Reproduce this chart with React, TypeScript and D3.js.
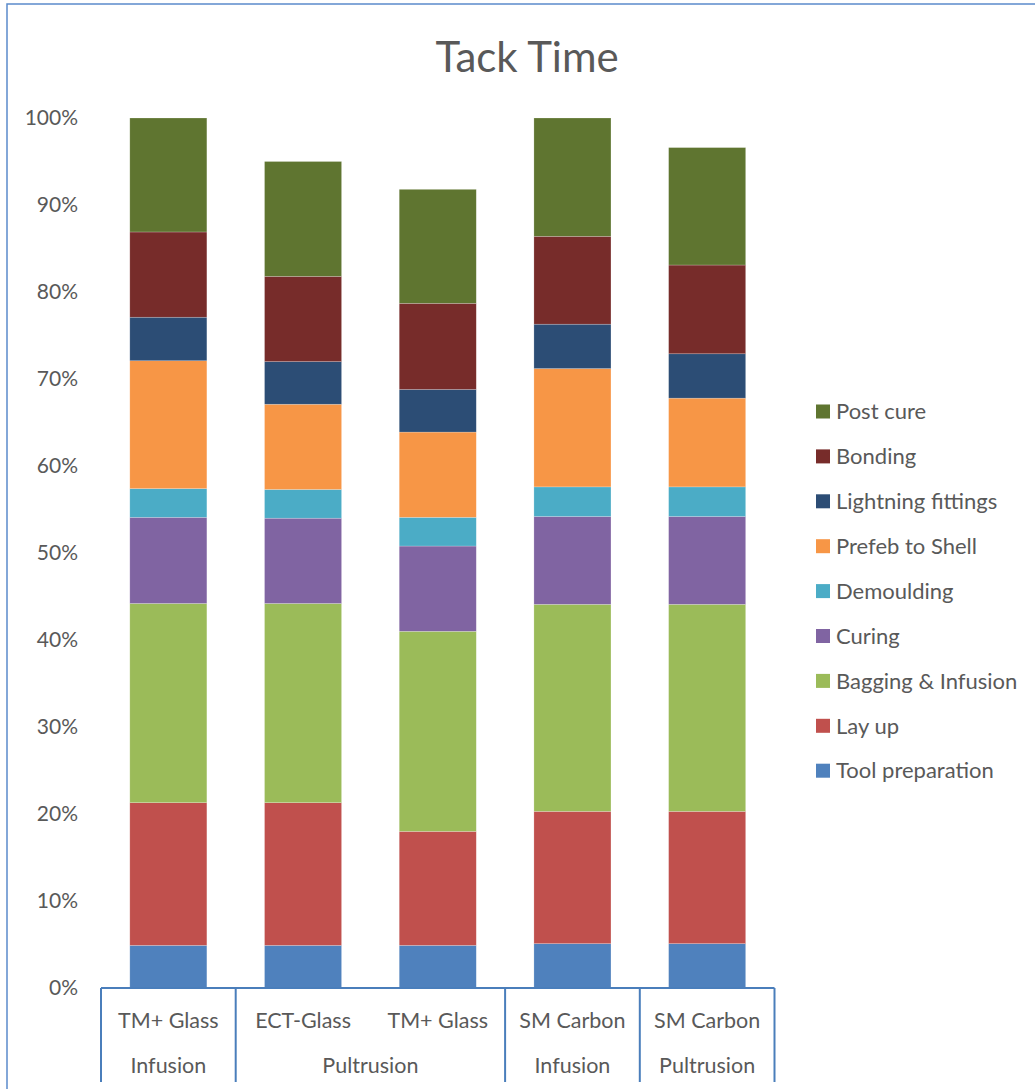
import React, { useEffect, useRef } from 'react';
import * as d3 from 'd3';

// categories (two-level x axis)
const products = ['TM+ Glass', 'ECT-Glass', 'TM+ Glass', 'SM Carbon', 'SM Carbon'];
const processes = ['Infusion', 'Pultrusion', 'Pultrusion', 'Infusion', 'Pultrusion'];

// series values, % of total time
const toolPreparation = [4.9, 4.9, 4.9, 5.1, 5.1];
const layUp = [16.4, 16.4, 13.1, 15.2, 15.2];
const baggingInfusion = [22.9, 22.9, 23.0, 23.8, 23.8];
const curing = [9.9, 9.8, 9.8, 10.1, 10.1];
const demoulding = [3.3, 3.3, 3.3, 3.4, 3.4];
const prefebToShell = [14.7, 9.8, 9.8, 13.6, 10.2];
const lightningFittings = [5.0, 4.9, 4.9, 5.1, 5.1];
const bonding = [9.8, 9.8, 9.9, 10.1, 10.2];
const postCure = [13.1, 13.2, 13.1, 13.6, 13.5];

const seriesNames = ['Tool preparation', 'Lay up', 'Bagging & Infusion', 'Curing', 'Demoulding',
    'Prefeb to Shell', 'Lightning fittings', 'Bonding', 'Post cure'];
const seriesValues = [toolPreparation, layUp, baggingInfusion, curing, demoulding,
    prefebToShell, lightningFittings, bonding, postCure];
const seriesColors = ['#4F81BD', '#C0504D', '#9BBB59', '#8064A2', '#4BACC6',
    '#F79646', '#2C4D75', '#772C2A', '#5F7530'];

const yTicks = [0, 10, 20, 30, 40, 50, 60, 70, 80, 90, 100];

const WIDTH = 1035;
const HEIGHT = 1089;
const FONT = 'Lato, "Open Sans", sans-serif';
const TEXT = '#595959';
const AXIS = '#4A7EBB';

const StackedChart: React.FC = () => {
    const ref = useRef<SVGSVGElement>(null);

    useEffect(() => {
        draw();
        //eslint-disable-next-line
    }, []);

    const draw = () => {
        const svg = d3.select(ref.current);
        svg.selectAll('*').remove();

        const idx = products.map((_, i) => i);
        const rows = idx.map(i => {
            const r: Record<string, number> = { i };
            seriesNames.forEach((s, k) => { r[s] = seriesValues[k][i]; });
            return r;
        });

        const x = d3.scaleBand<number>().domain(idx).range([101, 774.5]).paddingInner(0.428).paddingOuter(0.214);
        const y = d3.scaleLinear().domain([0, 100]).range([988, 118]);
        const stack = d3.stack<Record<string, number>>().keys(seriesNames);
        const layers = stack(rows);

        // chart border
        svg.append('rect')
            .attr('x', 7).attr('y', 4)
            .attr('width', WIDTH).attr('height', HEIGHT)
            .attr('fill', 'none')
            .attr('stroke', '#5B8BCB')
            .attr('stroke-width', 1.5);

        // title
        svg.append('text')
            .attr('x', 527).attr('y', 72)
            .attr('text-anchor', 'middle')
            .attr('font-family', FONT)
            .attr('font-size', 42)
            .attr('fill', TEXT)
            .text('Tack Time');

        // y labels
        svg.append('g').selectAll('text')
            .data(yTicks)
            .enter().append('text')
            .attr('x', 78)
            .attr('y', d => y(d))
            .attr('dy', '0.35em')
            .attr('text-anchor', 'end')
            .attr('font-family', FONT)
            .attr('font-size', 21)
            .attr('fill', TEXT)
            .text(d => `${d}%`);

        // bars
        const g = svg.append('g');
        layers.forEach((layer, k) => {
            g.append('g')
                .attr('fill', seriesColors[k])
                .selectAll('rect')
                .data(layer)
                .enter().append('rect')
                .attr('x', (_, i) => x(i) as number)
                .attr('width', x.bandwidth())
                .attr('y', d => y(d[1]))
                .attr('height', d => y(d[0]) - y(d[1]))
                .attr('stroke', 'rgba(255,255,255,0.35)')
                .attr('stroke-width', 0.6);
        });

        // x axis (two levels)
        const step = x.step();
        const left = (i: number) => (x(i) as number) - (step - x.bandwidth()) / 2;
        const axis = svg.append('g');
        axis.append('line')
            .attr('x1', left(0)).attr('x2', left(idx.length - 1) + step)
            .attr('y1', 988).attr('y2', 988)
            .attr('stroke', AXIS).attr('stroke-width', 2);

        // group boundaries
        const bounds: number[] = [0];
        processes.forEach((p, i) => { if (i > 0 && p !== processes[i - 1]) bounds.push(i); });
        bounds.push(idx.length);
        const groups = bounds.slice(0, -1).map((b, j) => ({ start: b, end: bounds[j + 1] }));

        axis.selectAll('line.sep')
            .data(bounds)
            .enter().append('line')
            .attr('class', 'sep')
            .attr('x1', b => b < idx.length ? left(b) : left(idx.length - 1) + step)
            .attr('x2', b => b < idx.length ? left(b) : left(idx.length - 1) + step)
            .attr('y1', 988).attr('y2', 1082)
            .attr('stroke', AXIS).attr('stroke-width', 2);

        axis.selectAll('text.prod')
            .data(idx)
            .enter().append('text')
            .attr('class', 'prod')
            .attr('x', i => (x(i) as number) + x.bandwidth() / 2)
            .attr('y', 1020)
            .attr('dy', '0.35em')
            .attr('text-anchor', 'middle')
            .attr('font-family', FONT)
            .attr('font-size', 21.5)
            .attr('fill', TEXT)
            .text(i => products[i]);

        axis.selectAll('text.proc')
            .data(groups)
            .enter().append('text')
            .attr('class', 'proc')
            .attr('x', gr => (left(gr.start) + left(gr.end - 1) + step) / 2)
            .attr('y', 1065)
            .attr('dy', '0.35em')
            .attr('text-anchor', 'middle')
            .attr('font-family', FONT)
            .attr('font-size', 21.5)
            .attr('fill', TEXT)
            .text(gr => processes[gr.start]);

        // legend, top entry is the last series
        const legend = svg.append('g')
            .selectAll('g')
            .data(seriesNames.map((s, k) => k).reverse())
            .enter().append('g')
            .attr('transform', (_, j) => `translate(816,${411.5 + j * 44.9})`);
        legend.append('rect')
            .attr('x', 0).attr('y', -7)
            .attr('width', 14).attr('height', 14)
            .attr('fill', k => seriesColors[k]);
        legend.append('text')
            .attr('x', 20).attr('y', 0)
            .attr('dy', '0.35em')
            .attr('font-family', FONT)
            .attr('font-size', 22)
            .attr('fill', TEXT)
            .text(k => seriesNames[k]);
    };

    return <svg ref={ref} width={WIDTH} height={HEIGHT}
        style={{ position: 'absolute', left: 0, top: 0, background: '#fff' }}></svg>;
};

export default function App() {
    return <StackedChart />;
}
